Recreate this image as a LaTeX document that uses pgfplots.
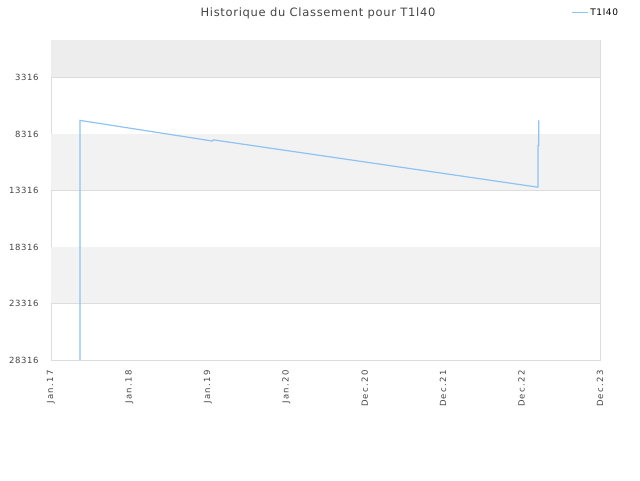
\documentclass[border=0pt]{standalone}
\usepackage{fontspec}
\setmainfont{DejaVu Sans}
\newfontfamily\titlefont[LetterSpace=6]{DejaVu Sans}
\newfontfamily\tickfont[LetterSpace=7]{DejaVu Sans}
\newfontfamily\xtickfont[LetterSpace=15]{DejaVu Sans}
\usepackage{pgfplots}
\pgfplotsset{compat=1.18}
\definecolor{lineblue}{HTML}{8EC3F2}
\definecolor{bandtop}{HTML}{EDEDED}
\definecolor{band}{HTML}{F2F2F2}
\definecolor{gridc}{HTML}{DDDDDD}
\definecolor{txt}{HTML}{444444}

\begin{document}
\begin{tikzpicture}[x=1pt,y=1pt]
\path[use as bounding box] (0,0) rectangle (640,480);
\node[font=\titlefont\fontsize{11.5}{13}\selectfont, text=txt] at (318,467) {Historique du Classement pour T1l40};
\begin{axis}[
  at={(51pt,120pt)}, anchor=south west,
  scale only axis,
  width=549pt, height=320pt,
  xmin=0, xmax=7,
  ymin=1, ymax=28316,
  y dir=reverse,
  scaled y ticks=false,
  xtick={0,1,2,3,4,5,6,7},
  xticklabels={Jan.17,Jan.18,Jan.19,Jan.20,Dec.20,Dec.21,Dec.22,Dec.23},
  ytick={3316,8316,13316,18316,23316,28316},
  yticklabels={3316,8316,13316,18316,23316,28316},
  tick style={draw=none},
  xticklabel style={rotate=90, anchor=east, font=\xtickfont\fontsize{8.5}{10}\selectfont, text=txt, xshift=-7pt},
  yticklabel style={font=\tickfont\fontsize{8.5}{10}\selectfont, text=txt, xshift=-9pt},
  ymajorgrids, grid style={gridc, line width=0.8pt},
  axis line style={draw=gridc, line width=0.8pt},
  legend style={at={(0.947,1.085)}, anchor=west, draw=none, fill=none,
    font=\tickfont\fontsize{9}{10}\selectfont, inner sep=0pt},
  legend image code/.code={\draw[lineblue, line width=1.2pt] (0pt,0pt) -- (9pt,0pt);
    \path (0pt,0pt) -- (16pt,0pt);},
]
\fill[bandtop] (axis cs:0,1) rectangle (axis cs:7,3316);
\fill[band] (axis cs:0,8316) rectangle (axis cs:7,13316);
\fill[band] (axis cs:0,18316) rectangle (axis cs:7,23316);
\addplot[lineblue, line width=1.2pt] coordinates {
  (0.37,28316) (0.37,7115) (2.06,8943) (2.07,8837) (6.19,13007) (6.21,13007)
  (6.21,9323) (6.22,9323) (6.22,7115)
};
\addlegendentry{T1l40}
\end{axis}
\end{tikzpicture}
\end{document}
